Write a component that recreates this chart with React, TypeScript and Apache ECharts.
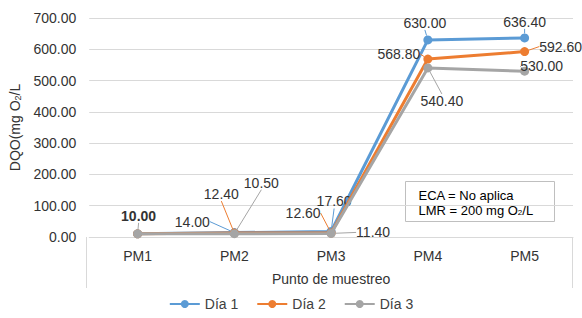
import React, { useEffect, useRef } from "react";
import * as echarts from "echarts";

const categories = ["PM1", "PM2", "PM3", "PM4", "PM5"];
const dia1 = [10, 14, 17.6, 630, 636.4];
const dia2 = [10, 12.4, 12.6, 568.8, 592.6];
const dia3 = [10, 10.5, 11.4, 540.4, 530];
const seriesNames = ["Día 1", "Día 2", "Día 3"];
const colors = ["#5b9bd5", "#ed7d31", "#a5a5a5"];
const yTicks = { min: 0, max: 700, interval: 100 };

// label offsets (px) relative to each point, per series
const labelOffsets: number[][][] = [
  [[0, 0], [-42, -11], [3, -30], [-3, -17], [0, -16]],
  [[0, 0], [-13, -39], [-28, -20], [-29, -5], [36, -5]],
  [[1, -18], [27, -51], [42, -1], [14, 33], [17, -5]],
];
const hiddenLabels: number[][] = [[0], [0], []];
const boldLabels: number[][] = [[], [], [0]];

const FONT = "'Liberation Sans', Arial, sans-serif";

export default function App() {
  const ref = useRef<HTMLDivElement>(null);
  useEffect(() => {
    if (!ref.current) return;
    const chart = echarts.init(ref.current, null, { renderer: "svg" });
    const all = [dia1, dia2, dia3];
    const series = all.map((arr, si) => ({
      name: seriesNames[si],
      type: "line",
      data: arr.map((v, i) => ({
        value: v,
        label: {
          show: !hiddenLabels[si].includes(i),
          fontWeight: boldLabels[si].includes(i) ? "bold" : "normal",
        },
      })),
      symbol: "circle",
      symbolSize: 9,
      lineStyle: { width: 3, color: colors[si] },
      itemStyle: { color: colors[si] },
      label: {
        show: true,
        formatter: (p: any) => Number(p.value).toFixed(2),
        color: "#333333",
        fontSize: 14,
        fontFamily: FONT,
      },
      labelLine: { show: true, lineStyle: { color: colors[si], width: 1 } },
      labelLayout: (params: any) => {
        const off = labelOffsets[si][params.dataIndex] || [0, 0];
        const cx = params.rect.x + params.rect.width / 2;
        const cy = params.rect.y + params.rect.height / 2;
        return {
          x: cx + off[0],
          y: cy + off[1],
          align: "center",
          verticalAlign: "middle",
        };
      },
      z: 2 + si,
    }));

    chart.setOption({
      animation: false,
      textStyle: { fontFamily: FONT },
      grid: { left: 86, right: 9, top: 18, bottom: 81 },
      legend: {
        bottom: 2,
        left: "center",
        itemWidth: 30,
        itemHeight: 10,
        itemGap: 18,
        textStyle: { fontSize: 14, color: "#404040", fontFamily: FONT },
        data: seriesNames,
      },
      xAxis: {
        type: "category",
        data: categories,
        boundaryGap: true,
        axisLine: { show: true, lineStyle: { color: "#d9d9d9", width: 1 } },
        axisTick: { show: false },
        axisLabel: { color: "#333333", fontSize: 14, margin: 12, fontFamily: FONT },
        name: "Punto de muestreo",
        nameLocation: "middle",
        nameGap: 35,
        nameTextStyle: { color: "#333333", fontSize: 14, fontFamily: FONT },
      },
      yAxis: {
        type: "value",
        min: yTicks.min,
        max: yTicks.max,
        interval: yTicks.interval,
        axisLine: { show: false },
        axisTick: { show: false },
        splitLine: { lineStyle: { color: "#d9d9d9", width: 1 } },
        axisLabel: {
          color: "#333333",
          fontSize: 14,
          margin: 13,
          fontFamily: FONT,
          formatter: (v: number) => v.toFixed(2),
        },
        name: "{a|DQO(mg O}{s|2}{a|/L}",
        nameLocation: "middle",
        nameGap: 60,
        nameTextStyle: {
          rich: {
            a: { fontSize: 14, color: "#333333", fontFamily: FONT },
            s: { fontSize: 9, color: "#333333", fontFamily: FONT, verticalAlign: "bottom", padding: [6, 0, 0, 0] },
          },
        },
      },
      graphic: [
        { type: "line", shape: { x1: 86.5, y1: 237, x2: 86.5, y2: 288 }, style: { stroke: "#d9d9d9", lineWidth: 1 } },
        { type: "line", shape: { x1: 572.5, y1: 237, x2: 572.5, y2: 288 }, style: { stroke: "#d9d9d9", lineWidth: 1 } },
        {
          type: "group",
          left: 405,
          top: 181,
          z: 100,
          children: [
            { type: "rect", shape: { x: 0, y: 0, width: 149, height: 40 }, style: { fill: "#fff", stroke: "#bfbfbf", lineWidth: 1 } },
            {
              type: "text",
              x: 13,
              y: 6,
              style: {
                text: "{a|ECA = No aplica}\n{a|LMR = 200 mg O}{s|2}{a|/L}",
                rich: {
                  a: { fontSize: 13, fill: "#000", fontFamily: FONT, lineHeight: 15 },
                  s: { fontSize: 8, fill: "#000", fontFamily: FONT, lineHeight: 15, padding: [5, 0, 0, 0] },
                },
              },
            },
          ],
        },
      ],
      series,
    });
    return () => chart.dispose();
  }, []);
  return <div ref={ref} style={{ width: 582, height: 318, position: "absolute", left: 0, top: 0 }} />;
}
